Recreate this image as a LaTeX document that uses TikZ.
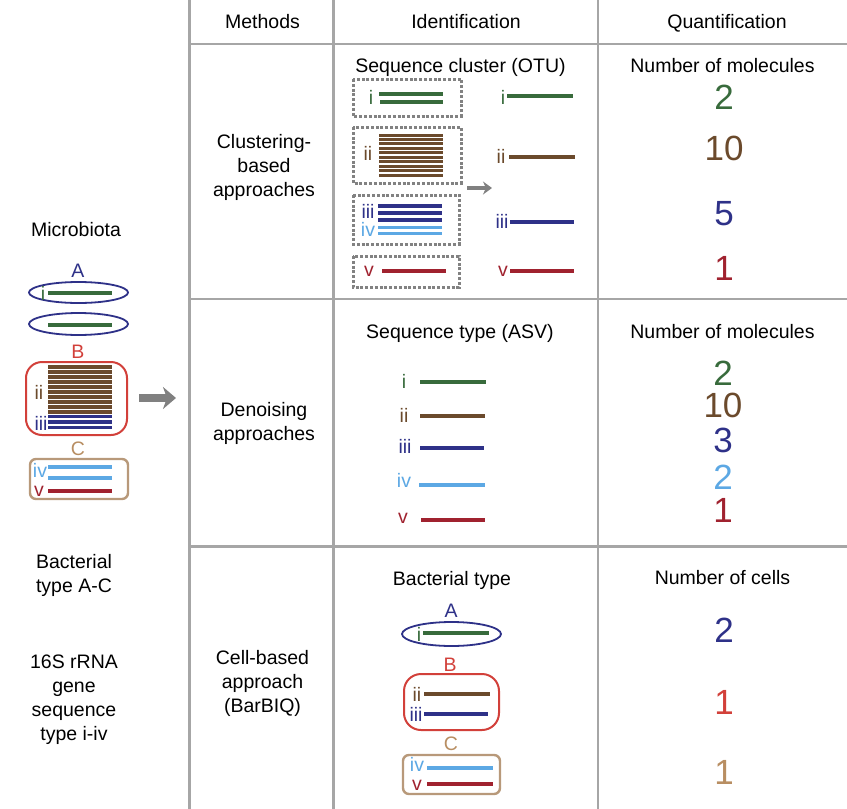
\documentclass[tikz,border=0pt]{standalone}
\usepackage{fontspec}
\setmainfont{Liberation Sans}
\usetikzlibrary{arrows.meta,shapes.geometric}
\definecolor{cgreen}{HTML}{386B3C}
\definecolor{cbrown}{HTML}{6B4A2C}
\definecolor{cblue}{HTML}{2E3188}
\definecolor{clblue}{HTML}{5CA8E4}
\definecolor{cred}{HTML}{A0222F}
\definecolor{cBred}{HTML}{D2403A}
\definecolor{ctan}{HTML}{B8997A}
\definecolor{ctantext}{HTML}{B88E62}
\definecolor{gridgray}{HTML}{A6A6A6}
\definecolor{arrgray}{HTML}{808080}
\definecolor{dotgray}{HTML}{828282}
\tikzset{
  txt/.style={font=\fontsize{19.5}{24}\selectfont, inner sep=0pt, text height=14pt, text depth=0pt},
  txs/.style={font=\fontsize{19.5}{24}\selectfont, inner sep=0pt, text height=10pt, text depth=0pt},
  ml/.style={font=\fontsize{19.5}{24}\selectfont, inner sep=0pt, align=center},
  num/.style={font=\fontsize{35}{40}\selectfont, inner sep=0pt, text height=25pt, text depth=0pt},
  bar/.style={line width=4pt},
  thinbar/.style={line width=3.2pt},
  gridline/.style={draw=gridgray, line width=2.5pt},
  dbox/.style={draw=dotgray, line width=3pt, dash pattern=on 3pt off 1.8pt},
  bigarrow/.style={draw=arrgray, line width=8pt, -{Stealth[length=13pt,width=22pt,inset=4pt]}},
  smallarrow/.style={draw=arrgray, line width=4.5pt, -{Stealth[length=9pt,width=13pt,inset=3pt]}},
}
\begin{document}
\begin{tikzpicture}[x=1pt,y=-1pt]
\useasboundingbox (0,0) rectangle (847,809);
\fill[white] (0,0) rectangle (847,809);

% grid
\draw[gridline] (189.5,0) -- (189.5,809);
\draw[gridline] (333.5,0) -- (333.5,809);
\draw[gridline] (598,0) -- (598,809);
\draw[gridline] (189.5,44) -- (847,44);
\draw[gridline] (189.5,299) -- (847,299);
\draw[gridline] (189.5,546.5) -- (847,546.5);

% headers
\node[txt] (hm) at (262.5,21) {Methods};
\node[txt] (hi) at (466,21) {Identification};
\node[txt] (hq) at (727,21) {Quantification};

% left column
\node[txt] (micro) at (76,229) {Microbiota};
\node[txt, text=cblue] (la) at (78,270) {A};
\draw[cblue, line width=1.8pt] (78.5,292.5) ellipse [x radius=49.5pt, y radius=10.5pt];
\draw[cgreen, bar] (48,293) -- (112,293);
\node[txt, text=cgreen] (li) at (43,293) {i};
\draw[cblue, line width=1.8pt] (78.5,324) ellipse [x radius=49.5pt, y radius=11pt];
\draw[cgreen, bar] (48,325) -- (112,325);
\node[txt, text=cBred] (lb) at (78,351) {B};
\draw[cBred, line width=2pt, rounded corners=16pt] (26,362) rectangle (127,435);
\foreach \k in {0,...,9} {\draw[cbrown, thinbar] (48,367+5*\k) -- (112,367+5*\k);}
\foreach \yy in {416.5,422,427.5} {\draw[cblue, thinbar] (48,\yy) -- (112,\yy);}
\node[txt, text=cbrown] (lii) at (39,392) {ii};
\node[txt, text=cblue] (liii) at (41,423) {iii};
\node[txt, text=ctantext] (lc) at (78,448) {C};
\draw[ctan, line width=2.4pt, rounded corners=6pt] (30,459) rectangle (128,499);
\draw[clblue, thinbar] (48,467) -- (112,467);
\draw[clblue, thinbar] (48,478) -- (112,478);
\draw[cred, bar] (48,491) -- (112,491);
\node[txs, text=clblue] (liv) at (40,472) {iv};
\node[txs, text=cred] (lv) at (39,491) {v};
\coordinate (ba1) at (139,398);
\coordinate (ba2) at (176,398);
\draw[bigarrow] (ba1) -- (ba2);
\node[ml] (btype) at (74,575) {Bacterial\\type A-C};
\node[ml] (seqtype) at (74,700) {16S rRNA\\gene\\sequence\\type i-iv};

% row 1: clustering
\node[ml] (clus) at (264,167) {Clustering-\\based\\approaches};
\node[txt] (otu) at (460.5,65) {Sequence cluster (OTU)};
\draw[dbox] (353,79) rectangle (461,116);
\draw[dbox] (353,127) rectangle (461,183);
\draw[dbox] (353,195) rectangle (459,244);
\draw[dbox] (353,256) rectangle (459,287);
\node[txt, text=cgreen] (c1i) at (371,97) {i};
\draw[cgreen, bar] (379,94) -- (443,94);
\draw[cgreen, bar] (380,102) -- (443,102);
\node[txt, text=cbrown] (c1ii) at (368,153) {ii};
\foreach \k in {0,...,9} {\draw[cbrown, line width=3pt] (379,135+4.48*\k) -- (443,135+4.48*\k);}
\node[txt, text=cblue] (c1iii) at (368,211) {iii};
\node[txs, text=clblue] (c1iv) at (368,231) {iv};
\foreach \yy in {206,213,220} {\draw[cblue, thinbar] (378,\yy) -- (442,\yy);}
\foreach \yy in {227.5,233} {\draw[clblue, line width=3pt] (378,\yy) -- (442,\yy);}
\node[txs, text=cred] (c1v) at (369,271) {v};
\draw[cred, bar] (382,271) -- (446,271);
\coordinate (sa1) at (467,188);
\coordinate (sa2) at (492,188);
\draw[smallarrow] (sa1) -- (sa2);
\node[txt, text=cgreen] (c2i) at (503,97) {i};
\draw[cgreen, bar] (507,96) -- (573,96);
\node[txt, text=cbrown] (c2ii) at (501,156) {ii};
\draw[cbrown, bar] (509,157) -- (575,157);
\node[txt, text=cblue] (c2iii) at (502,221) {iii};
\draw[cblue, bar] (510,222) -- (574,222);
\node[txs, text=cred] (c2v) at (503,271) {v};
\draw[cred, bar] (510,271) -- (574,271);
\node[txt] (nm1) at (722.5,65) {Number of molecules};
\node[num, text=cgreen] (n11) at (724,97) {2};
\node[num, text=cbrown] (n12) at (724,148) {10};
\node[num, text=cblue] (n13) at (724,213) {5};
\node[num, text=cred] (n14) at (724,268) {1};

% row 2: denoising
\node[ml] (deno) at (264,423) {Denoising\\approaches};
\node[txt] (asv) at (460,331) {Sequence type (ASV)};
\node[txt, text=cgreen] (d1) at (404,381) {i};
\draw[cgreen, bar] (420,382) -- (486,382);
\node[txt, text=cbrown] (d2) at (404,415) {ii};
\draw[cbrown, bar] (420,416) -- (485,416);
\node[txt, text=cblue] (d3) at (405,446) {iii};
\draw[cblue, bar] (420,448) -- (484,448);
\node[txs, text=clblue] (d4) at (404,482) {iv};
\draw[clblue, bar] (419,485) -- (485,485);
\node[txs, text=cred] (d5) at (403,518) {v};
\draw[cred, bar] (421,520) -- (485,520);
\node[txt] (nm2) at (722.5,331) {Number of molecules};
\node[num, text=cgreen] (n21) at (723,373) {2};
\node[num, text=cbrown] (n22) at (723,405) {10};
\node[num, text=cblue] (n23) at (723,440) {3};
\node[num, text=clblue] (n24) at (723,477) {2};
\node[num, text=cred] (n25) at (723,510) {1};

% row 3: cell-based
\node[ml] (cell) at (262.5,683) {Cell-based\\approach\\(BarBIQ)};
\node[txt] (bt) at (452,578) {Bacterial type};
\node[txt, text=cblue] (ra) at (451,610) {A};
\draw[cblue, line width=1.8pt] (451.5,634) ellipse [x radius=49.5pt, y radius=12pt];
\draw[cgreen, bar] (423,633) -- (489,633);
\node[txt, text=cgreen] (ri) at (419,634) {i};
\node[txt, text=cBred] (rb) at (450,664) {B};
\draw[cBred, line width=2pt, rounded corners=17pt] (404,674) rectangle (499,730);
\draw[cbrown, bar] (424,694) -- (490,694);
\draw[cblue, bar] (424,714) -- (488,714);
\node[txt, text=cbrown] (rii) at (417,694) {ii};
\node[txt, text=cblue] (riii) at (416,714) {iii};
\node[txt, text=ctantext] (rc) at (451,743) {C};
\draw[ctan, line width=2.4pt, rounded corners=6pt] (403,755) rectangle (500,794);
\draw[clblue, bar] (427,768) -- (493,768);
\draw[cred, bar] (427,784) -- (493,784);
\node[txs, text=clblue] (riv) at (417,766) {iv};
\node[txs, text=cred] (rv) at (417,785.5) {v};
\node[txt] (nc) at (722.5,577) {Number of cells};
\node[num, text=cblue] (n31) at (724,630) {2};
\node[num, text=cBred] (n32) at (724,702) {1};
\node[num, text=ctantext] (n33) at (724,772) {1};
\end{tikzpicture}
\end{document}
